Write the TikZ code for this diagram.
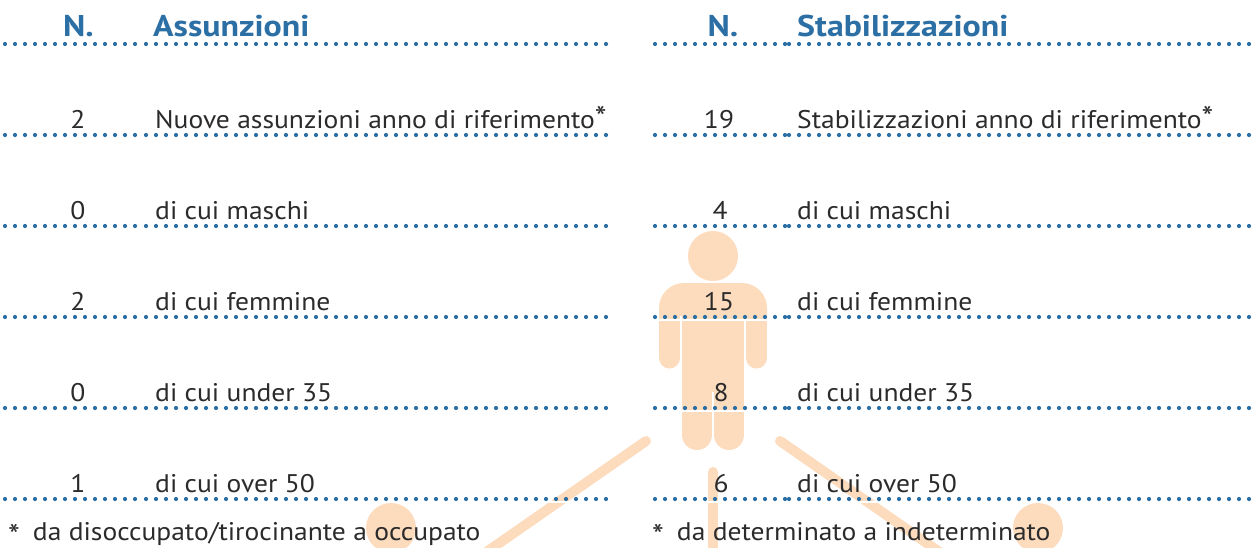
\documentclass[tikz,border=0pt]{standalone}
\usepackage{fontspec}
\setmainfont{PT Sans}[FakeStretch=1.08]
\newfontfamily\headfont{PT Sans}[FakeStretch=1.13]
\definecolor{dotblue}{HTML}{2C6FA5}
\definecolor{peach}{HTML}{FDDBBD}
\definecolor{inkgray}{HTML}{2B2B2B}
\newcommand{\notemark}{{\fontsize{31}{31}\selectfont *}}

\begin{document}
\begin{tikzpicture}[x=1pt, y=-1pt, inner sep=0pt,
    head/.style = {font=\headfont\bfseries\fontsize{30}{30}\selectfont, text=dotblue, anchor=base},
    cell/.style = {font=\fontsize{25.5}{25.5}\selectfont, text=inkgray, anchor=base},
    dots/.style = {dotblue, line width=4.2pt, line cap=round, dash pattern=on 0pt off 10pt},
    limb/.style = {peach, line cap=round}]
      \clip (0,0) rectangle (1253,547);
      % person figure and the branches below it
      \fill[peach] (713,256) circle (25);
      \fill[peach] (659,316) [rounded corners=25pt]-- (659,283) -- (767,283) [sharp corners]-- (767,316) -- cycle;
      \fill[peach] (682,300) rectangle (744,392);
      \draw[limb, line width=21pt] (669.5,316) -- (669.5,358);
      \draw[limb, line width=21pt] (756.5,316) -- (756.5,358);
      \draw[limb, line width=30pt] (697,392) -- (697,435);
      \draw[limb, line width=30pt] (729,392) -- (729,435);
      \coordinate (hipL) at (646,441);
      \coordinate (hipR) at (780,441);
      \coordinate (footL) at (475,560);
      \coordinate (footR) at (951,560);
      \coordinate (stem) at (713,472);
      \coordinate (stemEnd) at (713,560);
      \draw[limb, line width=10pt] (hipL) -- (footL);
      \draw[limb, line width=10pt] (hipR) -- (footR);
      \draw[limb, line width=10pt] (stem) -- (stemEnd);
      \fill[peach] (391,528) circle (25);
      \fill[peach] (1038,528) circle (25);
      % rules
      \foreach \y in {44,135,226,317,408,499} {
        \draw[white, line width=2pt] (0,\y+3) -- (1253,\y+3);
        \draw[dots] (5,\y) -- (143,\y);
        \draw[dots] (146,\y) -- (616,\y);
        \draw[dots] (655,\y) -- (786,\y);
        \draw[dots] (789,\y) -- (1260,\y);
      }
      % left table
      \node[head] (nA) at (78.5,36) {N.};
      \node[head, anchor=base west] (titleA) at (153,36) {Assunzioni};
      \node[cell] (a1) at (78,128) {2};
      \node[cell, anchor=base west] (la1) at (155,128) {Nuove assunzioni anno di riferimento\notemark};
      \node[cell] (a2) at (78,219) {0};
      \node[cell, anchor=base west] (la2) at (155,219) {di cui maschi};
      \node[cell] (a3) at (78,310) {2};
      \node[cell, anchor=base west] (la3) at (155,310) {di cui femmine};
      \node[cell] (a4) at (78,401) {0};
      \node[cell, anchor=base west] (la4) at (155,401) {di cui under 35};
      \node[cell] (a5) at (78,492) {1};
      \node[cell, anchor=base west] (la5) at (155,492) {di cui over 50};
      \node[cell, anchor=base west] (noteA) at (8,540) {\raisebox{-6pt}{\notemark}\hspace{13pt}da disoccupato/tirocinante a occupato};
      % right table
      \node[head] (nS) at (723,36) {N.};
      \node[head, anchor=base west] (titleS) at (797,36) {Stabilizzazioni};
      \node[cell] (s1) at (719,128) {19};
      \node[cell, anchor=base west] (ls1) at (797,128) {Stabilizzazioni anno di riferimento\notemark};
      \node[cell] (s2) at (720,219) {4};
      \node[cell, anchor=base west] (ls2) at (797,219) {di cui maschi};
      \node[cell] (s3) at (719,310) {15};
      \node[cell, anchor=base west] (ls3) at (797,310) {di cui femmine};
      \node[cell] (s4) at (721,401) {8};
      \node[cell, anchor=base west] (ls4) at (797,401) {di cui under 35};
      \node[cell] (s5) at (721,492) {6};
      \node[cell, anchor=base west] (ls5) at (797,492) {di cui over 50};
      \node[cell, anchor=base west] (noteS) at (652,540) {\raisebox{-6pt}{\notemark}\hspace{13pt}da determinato a indeterminato};
    \end{tikzpicture}
\end{document}
